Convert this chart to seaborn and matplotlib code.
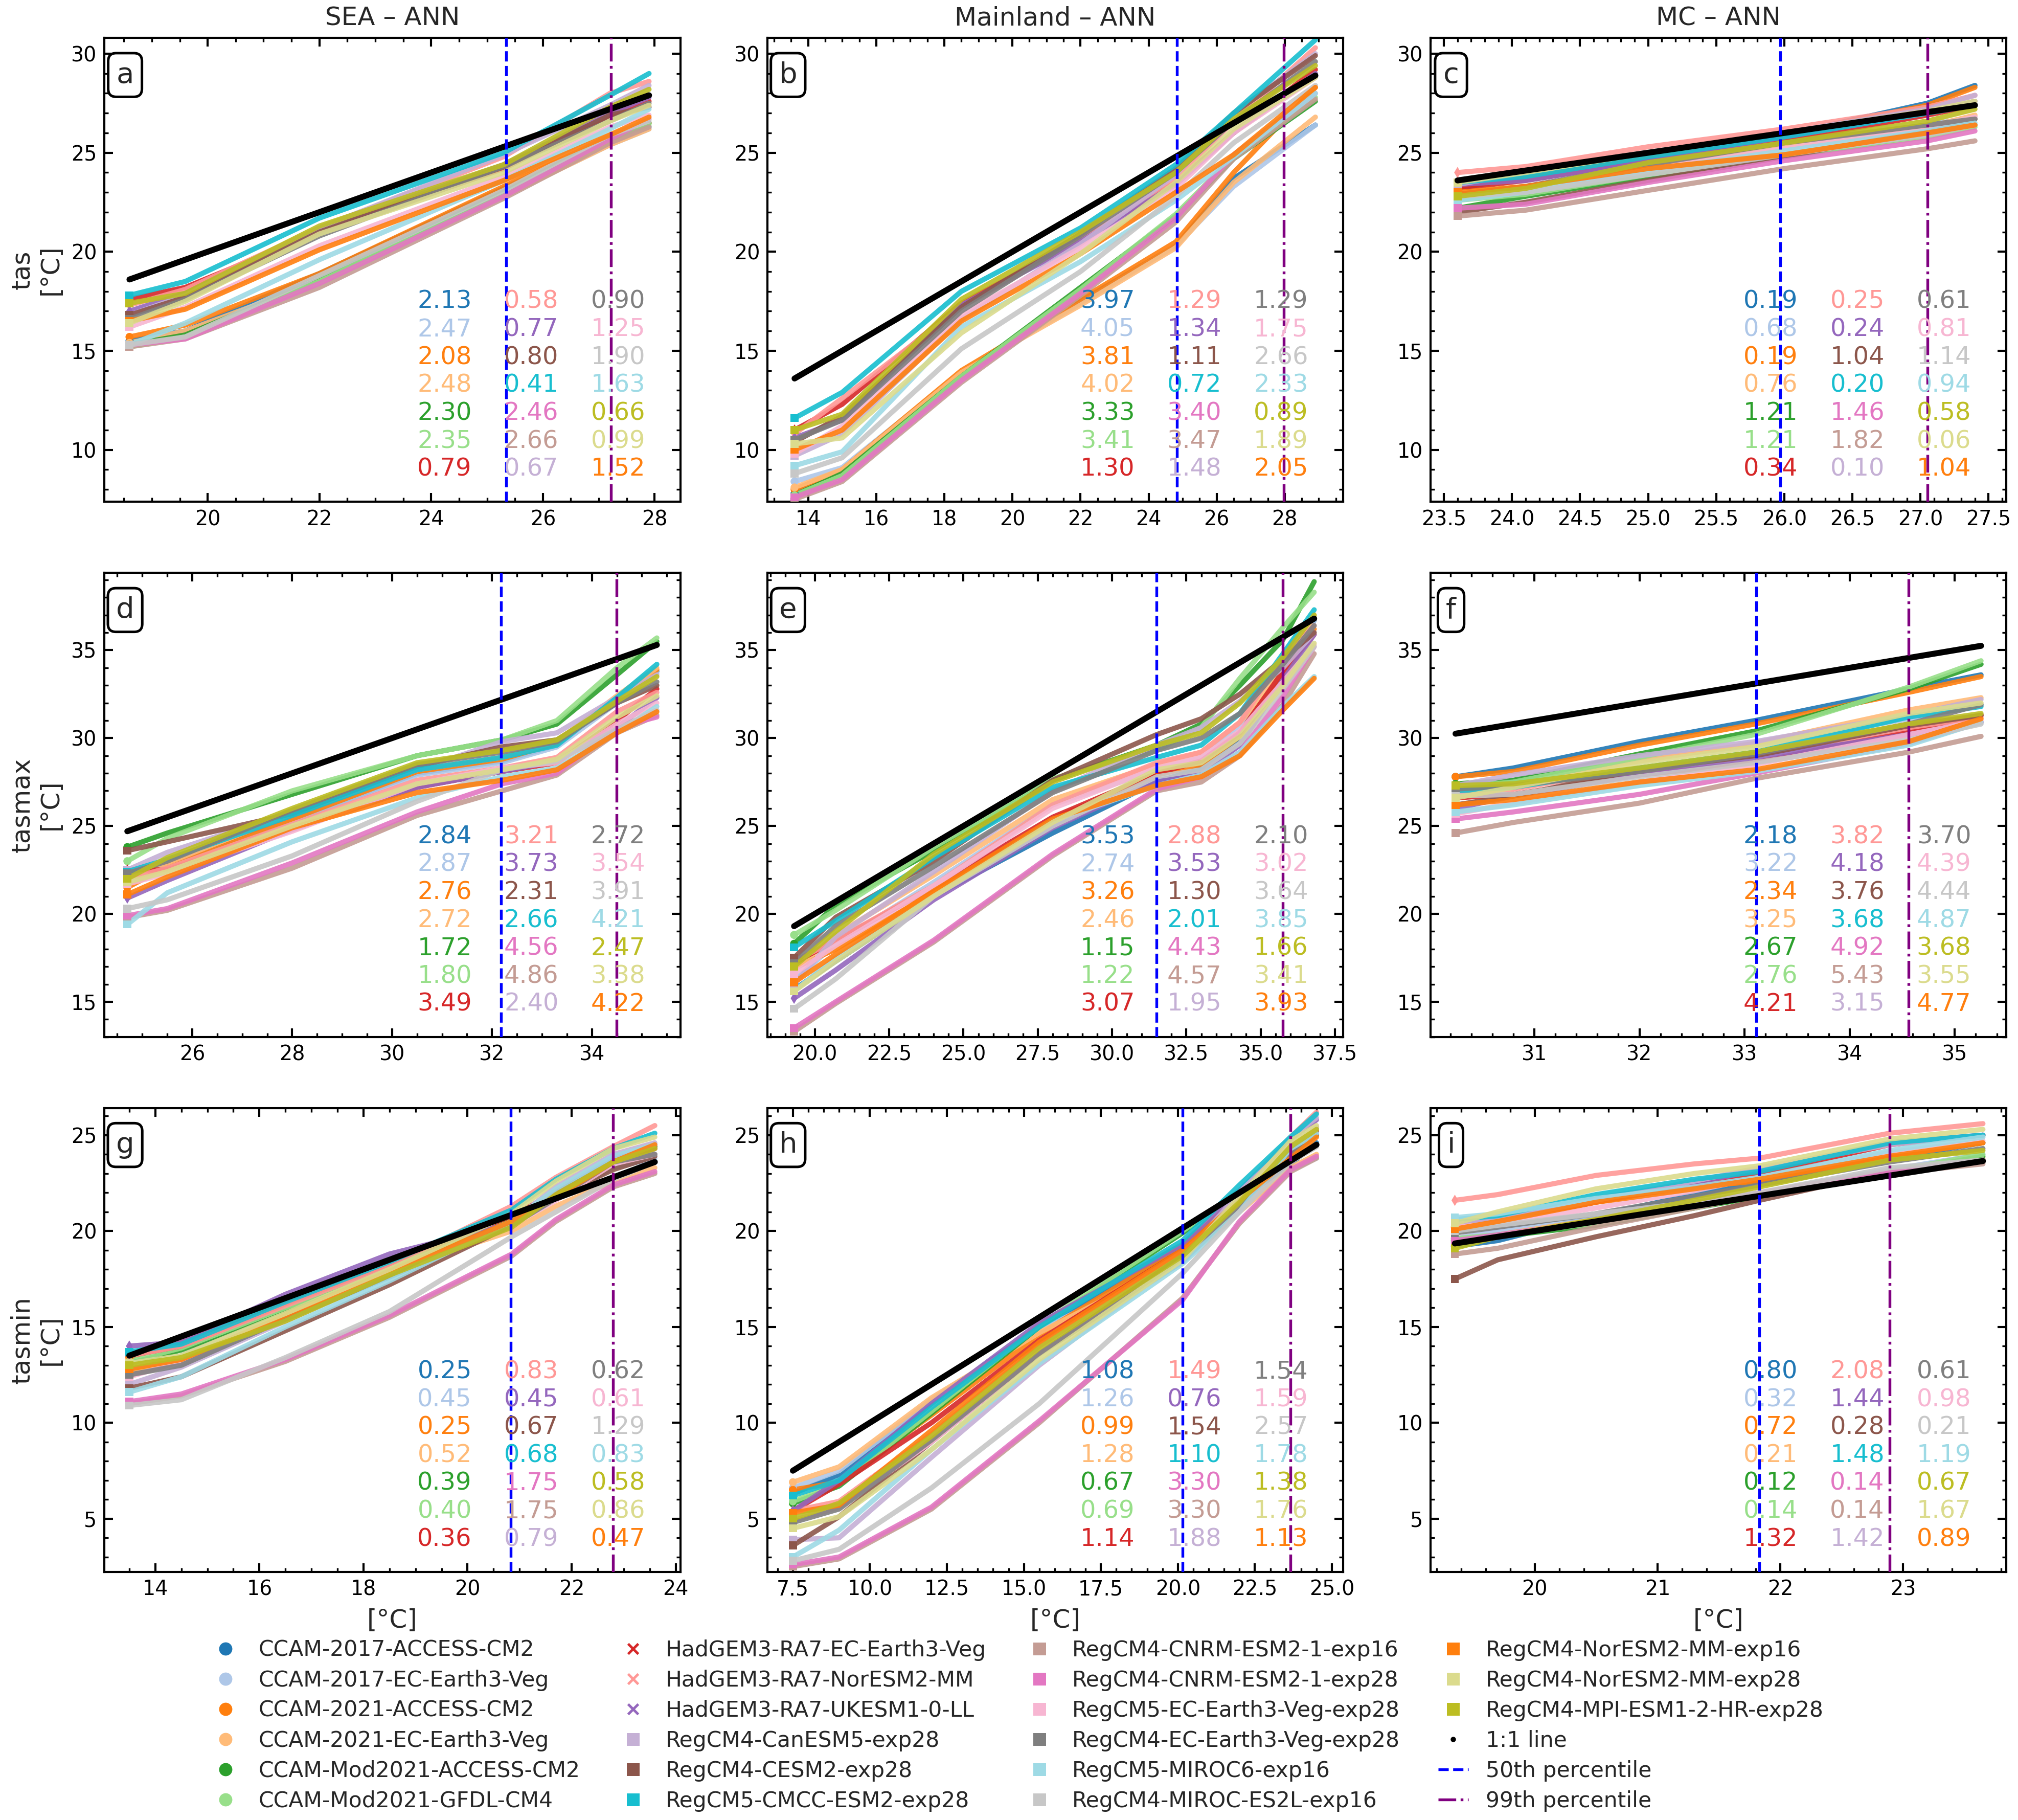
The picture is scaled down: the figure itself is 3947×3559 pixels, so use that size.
import numpy as np
import pandas as pd
import matplotlib
matplotlib.use("Agg")
import matplotlib.pyplot as plt
from matplotlib.lines import Line2D
from matplotlib.ticker import AutoMinorLocator
import seaborn as sns

# models in legend order
models = [
    "CCAM-2017-ACCESS-CM2", "CCAM-2017-EC-Earth3-Veg", "CCAM-2021-ACCESS-CM2",
    "CCAM-2021-EC-Earth3-Veg", "CCAM-Mod2021-ACCESS-CM2", "CCAM-Mod2021-GFDL-CM4",
    "HadGEM3-RA7-EC-Earth3-Veg", "HadGEM3-RA7-NorESM2-MM", "HadGEM3-RA7-UKESM1-0-LL",
    "RegCM4-CanESM5-exp28", "RegCM4-CESM2-exp28", "RegCM5-CMCC-ESM2-exp28",
    "RegCM4-CNRM-ESM2-1-exp16", "RegCM4-CNRM-ESM2-1-exp28", "RegCM5-EC-Earth3-Veg-exp28",
    "RegCM4-EC-Earth3-Veg-exp28", "RegCM5-MIROC6-exp16", "RegCM4-MIROC-ES2L-exp16",
    "RegCM4-NorESM2-MM-exp16", "RegCM4-NorESM2-MM-exp28", "RegCM4-MPI-ESM1-2-HR-exp28",
]
model_colors = [
    "#1f77b4", "#aec7e8", "#ff7f0e", "#ffbb78", "#2ca02c", "#98df8a",
    "#d62728", "#ff9896", "#9467bd", "#c5b0d5", "#8c564b", "#17becf",
    "#c49c94", "#e377c2", "#f7b6d2", "#7f7f7f", "#9edae5", "#c7c7c7",
    "#ff7f0e", "#dbdb8d", "#bcbd22",
]
legend_markers = ["o"] * 6 + ["x"] * 3 + ["s"] * 12
point_markers = ["o"] * 6 + ["d"] * 3 + ["s"] * 12

# order of the numbers in the 3x7 table (column by column)
table_order = [0, 1, 2, 3, 4, 5, 6, 7, 8, 10, 11, 13, 12, 9, 15, 14, 17, 16, 20, 19, 18]

regions = ["SEA", "Mainland", "MC"]
variables = ["tas", "tasmax", "tasmin"]
letters = list("abcdefghi")

# ---------------- a: SEA tas ----------------
sea_tas_obs = [18.6, 19.6, 22.0, 25.3, 27.2, 27.9]
sea_tas_mod = [
    [15.5, 16.0, 18.9, 23.2, 25.7, 26.3], [15.4, 15.8, 18.4, 22.8, 25.4, 26.2],
    [15.7, 16.3, 18.9, 23.3, 25.8, 26.5], [15.4, 16.0, 18.5, 22.8, 25.4, 26.2],
    [15.3, 15.8, 18.6, 23.0, 25.8, 26.5], [15.2, 15.7, 18.5, 22.9, 25.7, 26.4],
    [17.6, 18.2, 21.0, 24.2, 26.9, 27.6], [17.3, 18.1, 21.2, 24.8, 28.0, 28.6],
    [17.0, 17.9, 21.1, 24.4, 27.0, 27.8], [16.8, 17.8, 21.2, 24.9, 27.4, 28.4],
    [16.8, 17.7, 21.0, 24.3, 26.9, 27.3], [17.8, 18.5, 21.7, 25.0, 27.9, 29.0],
    [15.2, 15.6, 18.2, 22.7, 25.5, 26.3], [15.3, 15.6, 18.4, 22.8, 25.7, 26.7],
    [16.2, 17.2, 20.3, 23.8, 26.3, 26.9], [16.6, 17.6, 20.8, 24.3, 26.6, 27.5],
    [15.3, 16.4, 19.6, 23.6, 26.2, 27.2], [15.3, 15.7, 18.8, 23.1, 25.9, 26.6],
    [16.5, 17.1, 20.1, 23.6, 25.9, 26.8], [16.4, 17.5, 20.9, 24.0, 26.6, 27.4],
    [17.4, 17.9, 21.3, 24.4, 27.3, 28.2],
]
sea_tas_bias = [2.13, 2.47, 2.08, 2.48, 2.30, 2.35, 0.79, 0.58, 0.77, 0.67, 0.80,
                0.41, 2.66, 2.46, 1.25, 0.90, 1.63, 1.90, 1.52, 0.99, 0.66]
sea_tas_pct = [25.34, 27.22]

# ---------------- b: Mainland tas ----------------
ml_tas_obs = [13.6, 15.0, 18.5, 22.0, 24.8, 26.5, 28.9]
ml_tas_mod = [
    [7.8, 8.8, 13.8, 17.5, 20.3, 23.7, 26.4], [8.4, 9.1, 13.9, 17.4, 20.3, 23.3, 26.4],
    [8.0, 9.0, 14.0, 17.6, 20.5, 24.0, 28.3], [8.1, 9.0, 13.9, 17.3, 20.2, 23.5, 26.8],
    [7.7, 8.8, 13.7, 18.2, 21.8, 24.7, 27.6], [7.7, 8.7, 13.7, 18.1, 21.9, 24.8, 27.8],
    [11.0, 12.3, 17.4, 20.6, 23.5, 26.0, 29.2], [10.8, 12.6, 17.2, 20.6, 23.7, 26.6, 30.3],
    [10.6, 11.5, 17.3, 20.5, 23.4, 26.0, 29.0], [9.7, 10.8, 16.6, 20.4, 23.9, 27.0, 30.0],
    [10.4, 11.7, 17.2, 20.9, 24.2, 27.0, 29.9], [11.6, 12.9, 18.0, 21.2, 24.4, 27.0, 30.7],
    [7.5, 8.4, 13.4, 17.8, 21.5, 24.7, 27.7], [7.6, 8.5, 13.5, 17.9, 21.7, 24.9, 28.0],
    [9.8, 11.2, 16.8, 20.2, 23.2, 26.0, 28.8], [10.5, 11.5, 17.0, 20.8, 24.0, 26.6, 29.6],
    [9.2, 9.9, 16.2, 19.5, 22.6, 24.8, 28.0], [8.8, 9.6, 15.1, 19.0, 22.8, 25.5, 28.4],
    [10.0, 11.0, 16.5, 19.9, 23.0, 24.9, 28.3], [10.3, 10.6, 15.9, 19.9, 23.5, 26.2, 28.8],
    [11.0, 11.8, 17.6, 21.0, 24.0, 26.7, 29.4],
]
ml_tas_bias = [3.97, 4.05, 3.81, 4.02, 3.33, 3.41, 1.30, 1.29, 1.34, 1.48, 1.11,
               0.72, 3.47, 3.40, 1.75, 1.29, 2.33, 2.66, 2.05, 1.89, 0.89]
ml_tas_pct = [24.84, 27.97]

# ---------------- c: MC tas ----------------
mc_tas_obs = [23.6, 24.1, 25.0, 26.0, 27.05, 27.4]
mc_tas_mod = [
    [23.2, 23.8, 24.8, 25.9, 27.5, 28.4], [22.9, 23.3, 24.3, 25.4, 26.4, 26.8],
    [23.3, 23.7, 24.8, 25.9, 27.4, 28.3], [22.7, 23.2, 24.3, 25.3, 26.3, 26.9],
    [22.2, 22.8, 23.8, 24.8, 25.9, 26.4], [22.6, 22.9, 23.9, 24.8, 25.8, 26.3],
    [23.2, 23.6, 24.6, 25.6, 26.9, 27.4], [24.0, 24.3, 25.3, 26.2, 27.3, 27.9],
    [23.4, 23.6, 24.6, 25.8, 27.0, 27.6], [23.4, 24.0, 25.0, 26.0, 27.2, 27.9],
    [22.0, 22.5, 23.6, 24.8, 26.1, 26.7], [23.5, 23.8, 24.8, 25.8, 27.0, 27.4],
    [21.8, 22.1, 23.1, 24.2, 25.2, 25.6], [22.2, 22.4, 23.5, 24.6, 25.6, 26.1],
    [22.8, 23.1, 24.2, 25.2, 26.3, 26.8], [22.9, 23.3, 24.4, 25.5, 26.4, 26.7],
    [22.6, 23.0, 24.1, 25.1, 26.1, 26.5], [22.8, 23.0, 23.9, 24.9, 25.9, 26.4],
    [23.0, 23.3, 24.2, 24.9, 26.0, 26.4], [23.5, 24.0, 25.0, 26.0, 27.1, 27.6],
    [22.8, 23.2, 24.5, 25.5, 26.6, 27.2],
]
mc_tas_bias = [0.19, 0.68, 0.19, 0.76, 1.21, 1.21, 0.34, 0.25, 0.24, 0.10, 1.04,
               0.20, 1.82, 1.46, 0.81, 0.61, 0.94, 1.14, 1.04, 0.06, 0.58]
mc_tas_pct = [25.97, 27.05]

# ---------------- d: SEA tasmax ----------------
sea_tmax_obs = [24.7, 25.5, 28.0, 30.5, 32.2, 33.3, 34.5, 35.3]
sea_tmax_mod = [
    [22.2, 22.8, 25.3, 28.0, 28.7, 29.6, 32.2, 33.8], [21.9, 22.6, 25.3, 27.9, 28.6, 29.5, 32.0, 33.7],
    [21.5, 22.7, 25.4, 28.1, 28.8, 29.7, 32.3, 33.9], [22.0, 22.9, 25.7, 28.2, 28.9, 29.8, 32.4, 34.0],
    [23.8, 24.6, 26.8, 29.0, 29.9, 30.8, 33.6, 35.5], [23.0, 24.3, 27.0, 29.0, 29.9, 31.0, 34.0, 35.7],
    [22.5, 22.5, 24.8, 27.2, 28.1, 28.6, 31.0, 32.8], [22.0, 22.6, 25.1, 27.6, 28.3, 28.9, 31.5, 32.6],
    [20.9, 21.9, 24.8, 27.2, 28.1, 28.7, 30.6, 32.3], [22.5, 23.5, 25.8, 28.2, 29.8, 30.3, 32.3, 33.6],
    [23.6, 24.1, 25.7, 28.4, 29.5, 29.9, 32.0, 33.0], [22.4, 23.1, 25.6, 28.2, 28.9, 29.6, 32.3, 34.2],
    [19.8, 20.2, 22.6, 25.6, 27.0, 27.9, 30.3, 31.3], [19.9, 20.3, 22.9, 25.8, 27.4, 28.0, 30.6, 31.2],
    [21.7, 22.3, 24.7, 27.4, 28.3, 28.6, 30.8, 32.0], [22.3, 23.0, 25.9, 28.5, 29.2, 29.8, 32.0, 33.2],
    [19.4, 21.2, 24.1, 26.6, 27.8, 28.3, 30.3, 31.8], [20.3, 20.8, 23.3, 26.4, 28.2, 28.7, 30.5, 31.6],
    [21.1, 22.1, 24.9, 26.9, 27.6, 28.2, 30.3, 31.5], [21.8, 22.4, 25.0, 27.4, 28.2, 28.8, 31.2, 32.4],
    [22.0, 23.2, 26.0, 28.6, 29.3, 29.9, 32.1, 33.5],
]
sea_tmax_bias = [2.84, 2.87, 2.76, 2.72, 1.72, 1.80, 3.49, 3.21, 3.73, 2.40, 2.31,
                 2.66, 4.86, 4.56, 3.54, 2.72, 4.21, 3.91, 4.22, 3.38, 2.47]
sea_tmax_pct = [32.18, 34.49]

# ---------------- e: Mainland tasmax ----------------
ml_tmax_obs = [19.3, 20.7, 24.0, 28.0, 31.5, 33.0, 34.3, 35.75, 36.8]
ml_tmax_mod = [
    [15.7, 17.3, 21.0, 24.6, 27.5, 28.3, 30.0, 33.6, 36.7], [16.2, 18.3, 21.8, 26.2, 28.2, 28.9, 30.6, 33.6, 36.7],
    [16.9, 18.0, 21.2, 25.4, 27.9, 28.5, 30.1, 33.4, 36.2], [16.8, 18.8, 22.2, 26.5, 28.5, 29.2, 30.9, 33.8, 37.0],
    [18.3, 20.5, 23.6, 27.6, 29.6, 30.8, 33.0, 35.6, 38.9], [18.8, 20.2, 23.8, 27.7, 29.3, 30.6, 33.4, 36.3, 38.3],
    [17.2, 18.5, 21.5, 25.5, 28.0, 28.7, 30.3, 33.8, 35.9], [17.3, 18.5, 21.6, 26.2, 28.6, 29.2, 30.9, 34.6, 36.4],
    [15.2, 16.8, 20.8, 24.9, 27.6, 28.0, 29.6, 33.3, 35.9], [16.0, 18.7, 22.4, 27.0, 29.6, 30.6, 32.1, 34.0, 36.0],
    [17.5, 19.8, 23.0, 27.6, 30.2, 31.1, 32.5, 34.5, 36.0], [18.1, 19.6, 23.2, 27.2, 28.9, 29.6, 31.4, 34.8, 37.3],
    [13.3, 14.9, 18.4, 23.3, 27.0, 27.5, 29.0, 31.9, 34.8], [13.5, 15.0, 18.5, 23.4, 27.1, 27.8, 29.2, 32.4, 35.2],
    [16.6, 18.2, 21.6, 26.0, 28.3, 28.9, 30.4, 33.2, 35.3], [17.2, 19.3, 22.7, 26.9, 29.3, 30.0, 31.4, 34.2, 36.4],
    [15.6, 17.5, 21.0, 25.3, 27.3, 27.9, 29.2, 31.8, 33.5], [14.6, 16.3, 21.0, 25.0, 27.8, 28.2, 29.7, 32.8, 35.2],
    [16.1, 17.7, 21.3, 25.4, 27.3, 27.8, 29.0, 31.6, 33.4], [15.6, 17.3, 21.0, 25.2, 28.2, 28.6, 30.1, 33.0, 35.4],
    [17.0, 19.0, 23.4, 27.5, 29.6, 30.3, 32.0, 34.6, 37.0],
]
ml_tmax_bias = [3.53, 2.74, 3.26, 2.46, 1.15, 1.22, 3.07, 2.88, 3.53, 1.95, 1.30,
                2.01, 4.57, 4.43, 3.02, 2.10, 3.85, 3.64, 3.93, 3.41, 1.66]
ml_tmax_pct = [31.50, 35.75]

# ---------------- f: MC tasmax ----------------
mc_tmax_obs = [30.25, 30.8, 32.0, 33.1, 34.56, 35.25]
mc_tmax_mod = [
    [27.8, 28.3, 29.8, 31.0, 32.8, 33.6], [26.9, 27.6, 28.8, 29.6, 31.1, 31.9],
    [27.8, 28.1, 29.6, 30.8, 32.6, 33.5], [26.7, 27.5, 28.7, 29.7, 31.6, 32.3],
    [27.4, 27.6, 29.1, 30.4, 32.8, 34.2], [27.2, 27.5, 28.9, 30.2, 32.9, 34.4],
    [26.6, 26.8, 27.9, 28.6, 30.4, 31.3], [26.8, 27.1, 28.3, 29.0, 30.6, 31.2],
    [26.0, 26.7, 27.9, 28.9, 30.2, 30.9], [27.3, 27.9, 29.0, 29.8, 31.3, 32.2],
    [26.2, 26.7, 28.2, 29.0, 30.7, 31.3], [27.0, 27.2, 28.3, 29.2, 31.2, 31.8],
    [24.6, 25.2, 26.3, 27.7, 29.2, 30.1], [25.4, 25.8, 26.8, 28.0, 29.7, 30.9],
    [25.7, 26.3, 27.5, 28.5, 30.2, 31.0], [27.1, 27.3, 28.1, 29.1, 30.8, 31.9],
    [25.8, 26.2, 27.3, 28.1, 29.6, 30.9], [26.7, 26.8, 27.8, 28.6, 29.9, 30.8],
    [26.2, 26.5, 27.5, 28.2, 29.8, 31.1], [26.6, 27.2, 28.6, 29.5, 31.4, 32.0],
    [27.3, 27.4, 28.3, 29.2, 30.8, 31.4],
]
mc_tmax_bias = [2.18, 3.22, 2.34, 3.25, 2.67, 2.76, 4.21, 3.82, 4.18, 3.15, 3.76,
                3.68, 5.43, 4.92, 4.39, 3.70, 4.87, 4.44, 4.77, 3.55, 3.68]
mc_tmax_pct = [33.11, 34.56]

# ---------------- g: SEA tasmin ----------------
sea_tmin_obs = [13.5, 14.5, 16.5, 18.5, 20.85, 21.7, 22.8, 23.6]
sea_tmin_mod = [
    [13.5, 14.2, 16.3, 18.3, 20.6, 21.8, 23.5, 24.0], [12.7, 13.5, 15.9, 18.0, 20.4, 21.7, 23.3, 23.8],
    [13.4, 14.2, 16.2, 18.2, 20.7, 21.9, 23.6, 24.4], [12.6, 13.2, 15.5, 17.9, 20.0, 21.3, 22.6, 23.3],
    [13.1, 13.8, 15.9, 18.1, 20.6, 22.1, 23.8, 24.4], [13.2, 13.9, 16.0, 18.1, 20.5, 22.0, 23.7, 24.3],
    [13.5, 14.0, 16.2, 18.3, 20.8, 22.0, 23.8, 24.3], [13.5, 14.0, 16.1, 18.2, 21.3, 22.8, 24.4, 25.5],
    [14.0, 14.2, 16.7, 18.8, 20.4, 21.8, 23.9, 24.5], [12.0, 12.9, 15.3, 17.7, 20.5, 22.3, 24.0, 24.6],
    [11.8, 12.4, 14.8, 17.2, 20.3, 21.8, 23.2, 23.9], [13.7, 14.1, 16.3, 18.4, 21.1, 22.7, 24.3, 25.1],
    [11.0, 11.4, 13.2, 15.5, 18.7, 20.5, 22.3, 23.0], [11.1, 11.5, 13.3, 15.6, 18.8, 20.6, 22.4, 23.1],
    [12.4, 13.2, 15.5, 17.8, 20.3, 21.6, 23.5, 24.0], [12.5, 13.0, 15.4, 17.6, 20.3, 21.7, 23.6, 24.0],
    [11.6, 12.4, 15.0, 17.4, 20.5, 22.2, 23.9, 24.5], [10.9, 11.2, 13.4, 15.8, 19.7, 21.0, 22.7, 23.6],
    [12.8, 13.3, 15.6, 17.9, 20.5, 21.8, 23.6, 24.5], [13.1, 13.5, 15.7, 18.0, 20.9, 22.6, 24.3, 24.9],
    [13.0, 13.4, 15.3, 17.7, 20.2, 21.9, 23.6, 24.3],
]
sea_tmin_bias = [0.25, 0.45, 0.25, 0.52, 0.39, 0.40, 0.36, 0.83, 0.45, 0.79, 0.67,
                 0.68, 1.75, 1.75, 0.61, 0.62, 0.83, 1.29, 0.47, 0.86, 0.58]
sea_tmin_pct = [20.83, 22.80]

# ---------------- h: Mainland tasmin ----------------
ml_tmin_obs = [7.5, 9.0, 12.0, 15.5, 20.15, 22.0, 23.66, 24.5]
ml_tmin_mod = [
    [6.3, 7.3, 11.1, 15.0, 19.1, 21.6, 23.5, 24.6], [6.6, 7.5, 11.2, 14.8, 18.6, 21.2, 23.2, 23.8],
    [6.5, 6.9, 10.4, 14.6, 19.2, 21.8, 24.2, 25.0], [6.9, 7.7, 11.3, 14.7, 18.5, 21.0, 23.3, 24.0],
    [5.8, 6.7, 10.5, 15.0, 19.9, 22.1, 24.5, 25.4], [5.9, 6.8, 10.6, 15.1, 20.0, 22.0, 24.4, 25.2],
    [5.4, 6.8, 10.0, 14.3, 19.0, 21.6, 24.2, 25.2], [5.4, 5.9, 9.4, 14.0, 18.9, 21.4, 24.9, 26.2],
    [5.4, 7.0, 11.0, 15.2, 19.3, 22.1, 24.8, 25.8], [3.9, 4.0, 8.2, 13.0, 18.6, 22.0, 24.9, 25.9],
    [3.6, 5.1, 9.0, 13.6, 18.7, 21.6, 24.0, 25.0], [6.2, 7.0, 10.8, 15.0, 19.5, 22.4, 24.9, 26.1],
    [2.5, 2.9, 5.5, 10.0, 16.5, 20.4, 23.1, 23.8], [2.6, 3.0, 5.6, 10.1, 16.4, 20.5, 23.2, 23.9],
    [4.9, 5.6, 9.0, 13.6, 18.4, 21.5, 24.5, 25.4], [4.8, 5.5, 9.1, 13.6, 18.4, 21.3, 24.1, 25.0],
    [3.0, 4.4, 8.6, 13.1, 18.3, 21.0, 24.3, 25.1], [2.8, 3.4, 6.6, 11.0, 17.8, 21.0, 23.6, 24.4],
    [5.3, 5.7, 9.6, 14.2, 19.0, 21.6, 23.8, 24.9], [4.5, 5.1, 8.6, 13.3, 18.5, 21.8, 24.7, 25.5],
    [5.0, 5.8, 9.3, 13.9, 18.7, 21.5, 24.4, 25.3],
]
ml_tmin_bias = [1.08, 1.26, 0.99, 1.28, 0.67, 0.69, 1.14, 1.49, 0.76, 1.88, 1.54,
                1.10, 3.30, 3.30, 1.59, 1.54, 1.78, 2.57, 1.13, 1.76, 1.38]
ml_tmin_pct = [20.15, 23.66]

# ---------------- i: MC tasmin ----------------
mc_tmin_obs = [19.35, 19.7, 20.5, 21.3, 21.83, 22.89, 23.65]
mc_tmin_mod = [
    [19.2, 19.5, 20.8, 21.9, 22.6, 23.8, 24.6], [19.6, 20.0, 20.7, 21.4, 22.0, 23.2, 24.0],
    [20.2, 20.6, 21.6, 22.3, 22.6, 23.9, 24.6], [19.4, 19.8, 20.6, 21.3, 22.0, 23.1, 23.8],
    [19.5, 19.7, 20.3, 21.2, 21.8, 23.0, 23.9], [19.6, 19.8, 20.4, 21.2, 21.9, 23.1, 24.0],
    [20.2, 20.5, 21.5, 22.4, 23.0, 24.5, 25.0], [21.6, 21.9, 22.9, 23.5, 23.8, 25.1, 25.6],
    [20.3, 20.6, 21.7, 22.5, 23.2, 24.6, 25.0], [20.3, 20.6, 21.6, 22.6, 23.3, 24.5, 25.0],
    [17.5, 18.5, 19.7, 20.8, 21.6, 23.1, 23.6], [20.6, 20.8, 21.9, 22.7, 23.1, 24.6, 25.0],
    [18.8, 19.1, 20.2, 21.2, 21.9, 23.0, 23.5], [19.5, 19.8, 20.5, 21.4, 22.0, 23.1, 23.7],
    [20.2, 20.4, 21.2, 22.1, 22.8, 24.1, 24.7], [19.9, 20.2, 20.9, 21.8, 22.4, 23.6, 24.3],
    [20.7, 20.9, 21.7, 22.3, 22.8, 24.2, 24.9], [20.0, 20.3, 20.9, 21.5, 22.0, 23.3, 23.7],
    [20.1, 20.5, 21.5, 22.2, 22.7, 23.9, 24.6], [20.4, 21.0, 22.2, 23.0, 23.4, 24.8, 25.3],
    [19.1, 19.7, 20.6, 21.6, 22.3, 23.7, 24.2],
]
mc_tmin_bias = [0.80, 0.32, 0.72, 0.21, 0.12, 0.14, 1.32, 2.08, 1.44, 1.42, 0.28,
                1.48, 0.14, 0.14, 0.98, 0.61, 1.19, 0.21, 0.89, 1.67, 0.67]
mc_tmin_pct = [21.83, 22.89]

panels = [
    (sea_tas_obs, sea_tas_mod, sea_tas_bias, sea_tas_pct),
    (ml_tas_obs, ml_tas_mod, ml_tas_bias, ml_tas_pct),
    (mc_tas_obs, mc_tas_mod, mc_tas_bias, mc_tas_pct),
    (sea_tmax_obs, sea_tmax_mod, sea_tmax_bias, sea_tmax_pct),
    (ml_tmax_obs, ml_tmax_mod, ml_tmax_bias, ml_tmax_pct),
    (mc_tmax_obs, mc_tmax_mod, mc_tmax_bias, mc_tmax_pct),
    (sea_tmin_obs, sea_tmin_mod, sea_tmin_bias, sea_tmin_pct),
    (ml_tmin_obs, ml_tmin_mod, ml_tmin_bias, ml_tmin_pct),
    (mc_tmin_obs, mc_tmin_mod, mc_tmin_bias, mc_tmin_pct),
]

# axis ranges
row_ylims = [(7.37, 30.8), (13.0, 39.4), (2.22, 26.42)]
panel_xlims = [(18.15, 28.46), (12.8, 29.72), (23.40, 27.63),
               (24.24, 35.77), (18.40, 37.78), (30.01, 35.49),
               (13.02, 24.09), (6.67, 25.37), (19.15, 23.84)]

sns.set_style("ticks")
plt.rcParams["font.family"] = ["DejaVu Sans"]
plt.rcParams["axes.linewidth"] = 1.0
plt.rcParams["axes.edgecolor"] = "black"

palette = dict(zip(models, model_colors))
marker_map = dict(zip(models, point_markers))

fig, axes = plt.subplots(3, 3, figsize=(3947 / 300, 3559 / 300), dpi=300)
fig.subplots_adjust(left=0.0517, right=0.9942, top=0.9792, bottom=0.1363,
                    wspace=0.151, hspace=0.153)

for k, ax in enumerate(axes.flat):
    obs, mod, bias, pct = panels[k]
    row, col = divmod(k, 3)

    df = pd.DataFrame({
        "obs": np.tile(obs, len(models)),
        "val": np.concatenate([np.asarray(m) for m in mod]),
        "model": np.repeat(models, len(obs)),
    })
    sns.lineplot(data=df, x="obs", y="val", hue="model", hue_order=models,
                 palette=palette, estimator=None, sort=False, lw=2.4,
                 alpha=0.9, legend=False, ax=ax)
    # small markers where the coldest quantiles start
    first = df[df["obs"] == obs[0]]
    sns.scatterplot(data=first, x="obs", y="val", hue="model", hue_order=models,
                    palette=palette, style="model", style_order=models,
                    markers=marker_map, s=14, linewidth=0,
                    legend=False, ax=ax, zorder=3)
    # 1:1 line
    sns.lineplot(x=obs, y=obs, color="black", lw=2.8, estimator=None,
                 sort=False, ax=ax, zorder=5)
    ax.axvline(pct[0], color="blue", ls="--", lw=1.3, zorder=6)
    ax.axvline(pct[1], color="purple", ls="-.", lw=1.3, zorder=6)

    ax.set_xlim(panel_xlims[k])
    ax.set_ylim(row_ylims[row])
    ax.xaxis.set_minor_locator(AutoMinorLocator())
    ax.yaxis.set_minor_locator(AutoMinorLocator())
    ax.tick_params(which="both", direction="in", top=True, right=True,
                   labelsize=9.5, colors="black")
    ax.tick_params(which="major", length=4, width=1.0)
    ax.tick_params(which="minor", length=2, width=0.8)

    # table of numbers
    for j, m in enumerate(table_order):
        tc, tr = divmod(j, 7)
        ax.text(0.638 + 0.1505 * tc, 0.432 - 0.0602 * tr, f"{bias[m]:.2f}",
                color=model_colors[m], ha="right", va="center", fontsize=11.5,
                transform=ax.transAxes, zorder=7)

    ax.text(0.036, 0.92, letters[k], transform=ax.transAxes, fontsize=13.5,
            ha="center", va="center", zorder=8,
            bbox=dict(boxstyle="round,pad=0.28", fc="white", ec="black", lw=1.2))

    ax.set_xlabel("[°C]" if row == 2 else "", fontsize=12)
    ax.set_ylabel(f"{variables[row]}\n[°C]" if col == 0 else "", fontsize=12)
    if row == 0:
        ax.set_title(f"{regions[col]} – ANN", fontsize=12, pad=6)

handles = [Line2D([], [], ls="none", marker=mk, color=c, markersize=5, mew=1.2)
           for mk, c in zip(legend_markers, model_colors)]
handles.append(Line2D([], [], ls="none", marker=".", color="black", markersize=3))
handles.append(Line2D([], [], color="blue", ls="--", lw=1.3))
handles.append(Line2D([], [], color="purple", ls="-.", lw=1.3))
labels = models + ["1:1 line", "50th percentile", "99th percentile"]

fig.legend(handles, labels, loc="upper center", bbox_to_anchor=(0.504, 0.1052),
           ncol=4, frameon=False, fontsize=10.2, borderpad=0, labelspacing=0.4,
           handlelength=1.4, handletextpad=0.8, columnspacing=1.75)

fig.savefig("out.png", dpi=300)
